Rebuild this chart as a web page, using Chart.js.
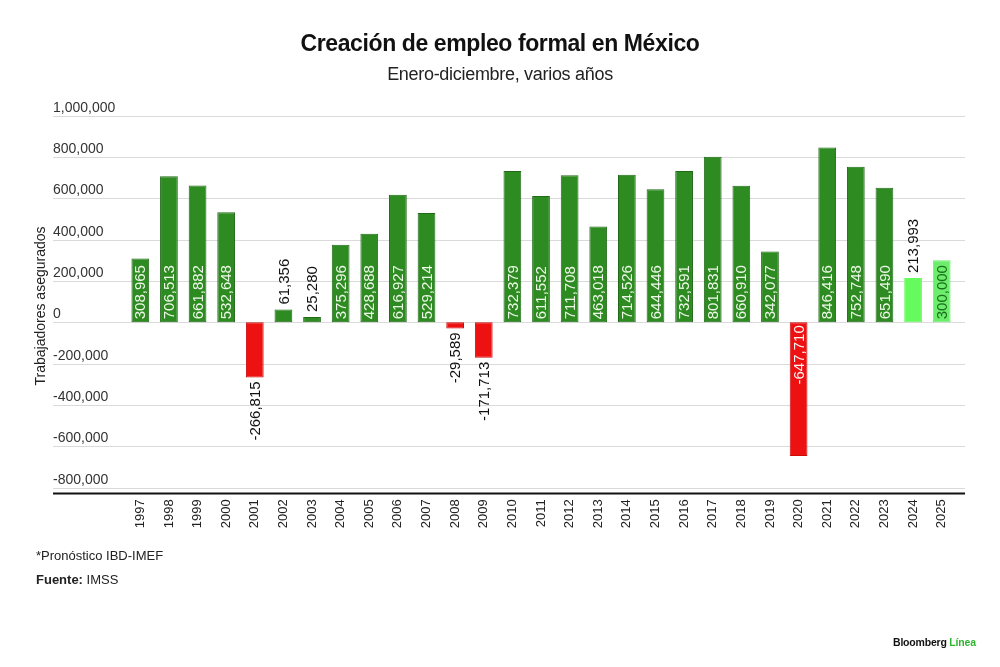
<!DOCTYPE html>
<html>
<head>
<meta charset="utf-8">
<script src="https://cdn.jsdelivr.net/npm/chart.js@4"></script>
<style>
  html,body{margin:0;padding:0;background:#fff;}
  #wrap{position:relative;width:1000px;height:667px;overflow:hidden;font-family:"Liberation Sans",Arial,sans-serif;color:#111;}
  canvas{position:absolute;left:0;top:0;}
  .t{position:absolute;white-space:nowrap;}
  #title{left:0;width:1000px;text-align:center;top:30px;font-size:23px;font-weight:bold;letter-spacing:-0.4px;color:#111;}
  #sub{left:0;width:1000px;text-align:center;top:64px;font-size:18px;color:#222;letter-spacing:-0.3px;}
  #note{left:36px;top:548px;font-size:13px;color:#222;}
  #src{left:36px;top:572px;font-size:13px;color:#222;}
  #logo{left:893px;top:636px;font-size:10.5px;font-weight:bold;color:#111;letter-spacing:-0.2px;}
  #logo span{color:#2fb52f;}
</style>
</head>
<body>
<div id="wrap">
  <canvas id="c" width="1000" height="667"></canvas>
  <div class="t" id="title">Creación de empleo formal en México</div>
  <div class="t" id="sub">Enero-diciembre, varios años</div>
  <div class="t" id="note">*Pronóstico IBD-IMEF</div>
  <div class="t" id="src"><b>Fuente:</b> IMSS</div>
  <div class="t" id="logo">Bloomberg <span>Línea</span></div>
</div>
<script>
const years = ["1997","1998","1999","2000","2001","2002","2003","2004","2005","2006","2007","2008","2009","2010","2011","2012","2013","2014","2015","2016","2017","2018","2019","2020","2021","2022","2023","2024","2025"];
const empleos = [308965,706513,661882,532648,-266815,61356,25280,375296,428688,616927,529214,-29589,-171713,732379,611552,711708,463018,714526,644446,732591,801831,660910,342077,-647710,846416,752748,651490,213993,300000];
const destacados = ["2024","2025"];
const yTicks = [1000000,800000,600000,400000,200000,0,-200000,-400000,-600000,-800000];
const yTitle = "Trabajadores asegurados";

const fmt = v => v.toLocaleString('en-US');
const bg = years.map((y,i)=> empleos[i] < 0 ? '#ee1111' : (y==='2025' ? '#6cee6c' : (destacados.includes(y) ? '#66fb5c' : '#2e8b22')));
const bd = years.map((y,i)=> empleos[i] < 0 ? '#cc0d0d' : (destacados.includes(y) ? bg[i] : '#206a18'));

const GL = 53, GR = 965;

const decor = {
  id:'decor',
  beforeDatasetsDraw(chart){
    const ctx = chart.ctx, ys = chart.scales.y;
    ctx.save();
    ctx.strokeStyle = '#dadada'; ctx.lineWidth = 1;
    yTicks.forEach(v=>{
      const py = Math.round(ys.getPixelForValue(v)) + 0.5;
      ctx.beginPath(); ctx.moveTo(GL,py); ctx.lineTo(GR,py); ctx.stroke();
    });
    ctx.fillStyle = '#333';
    ctx.font = '14px "Liberation Sans", Arial, sans-serif';
    ctx.textAlign = 'left'; ctx.textBaseline = 'alphabetic';
    yTicks.forEach(v=>{
      const py = ys.getPixelForValue(v);
      ctx.fillText(fmt(v), GL, py - 4);
    });
    ctx.save();
    ctx.translate(41, 306);
    ctx.rotate(-Math.PI/2);
    ctx.textAlign='center'; ctx.textBaseline='middle';
    ctx.font = '14px "Liberation Sans", Arial, sans-serif';
    ctx.fillStyle='#222';
    ctx.fillText(yTitle,0,0);
    ctx.restore();
    ctx.restore();
  },
  afterDatasetsDraw(chart){
    const ctx = chart.ctx;
    const ys = chart.scales.y;
    const by = Math.round(ys.bottom)+0.5;
    ctx.save();
    ctx.strokeStyle = '#111'; ctx.lineWidth = 2;
    ctx.beginPath(); ctx.moveTo(GL,by); ctx.lineTo(GR,by); ctx.stroke();
    const meta = chart.getDatasetMeta(0);
    ctx.font = '15px "Liberation Sans", Arial, sans-serif';
    ctx.textBaseline = 'middle';
    meta.data.forEach((bar,i)=>{
      const v = empleos[i];
      const txt = fmt(v);
      const w = ctx.measureText(txt).width;
      const h = Math.abs(bar.base - bar.y);
      const inside = h >= w + 4;
      ctx.save();
      let ay, align, color;
      if (v >= 0) {
        if (inside) { ay = bar.base - 3; align='left'; color = years[i]==='2025' ? '#1c6e1c' : '#eef8e8'; }
        else { ay = bar.y - 5; align='left'; color='#111'; }
      } else {
        if (inside) { ay = bar.base + 3; align='right'; color='#fff2f2'; }
        else { ay = bar.y + 4; align='right'; color='#111'; }
      }
      ctx.translate(bar.x, ay);
      ctx.rotate(-Math.PI/2);
      ctx.textAlign = align;
      ctx.fillStyle = color;
      ctx.fillText(txt, 0, 1);
      ctx.restore();
    });
    ctx.restore();
  }
};

new Chart(document.getElementById('c'), {
  type:'bar',
  data:{
    labels: years,
    datasets:[{
      data: empleos,
      backgroundColor: bg,
      borderColor: bd,
      borderWidth: 1,
      borderSkipped: false,
      barPercentage: 0.62,
      categoryPercentage: 1
    }]
  },
  options:{
    responsive:false,
    animation:false,
    devicePixelRatio:1,
    layout:{ padding:{ top:115.7, left:126, right:44, bottom:133.7 } },
    plugins:{ legend:{display:false}, tooltip:{enabled:false}, title:{display:false} },
    scales:{
      x:{
        display:true,
        grid:{display:false, drawTicks:false},
        border:{display:false},
        ticks:{ minRotation:90, maxRotation:90, padding:6, color:'#222', font:{family:'"Liberation Sans", Arial, sans-serif', size:13}, autoSkip:false },
        afterFit: s => { s.height = 40; }
      },
      y:{
        display:false,
        min:-828000,
        max:1000000
      }
    }
  },
  plugins:[decor]
});
</script>
</body>
</html>
